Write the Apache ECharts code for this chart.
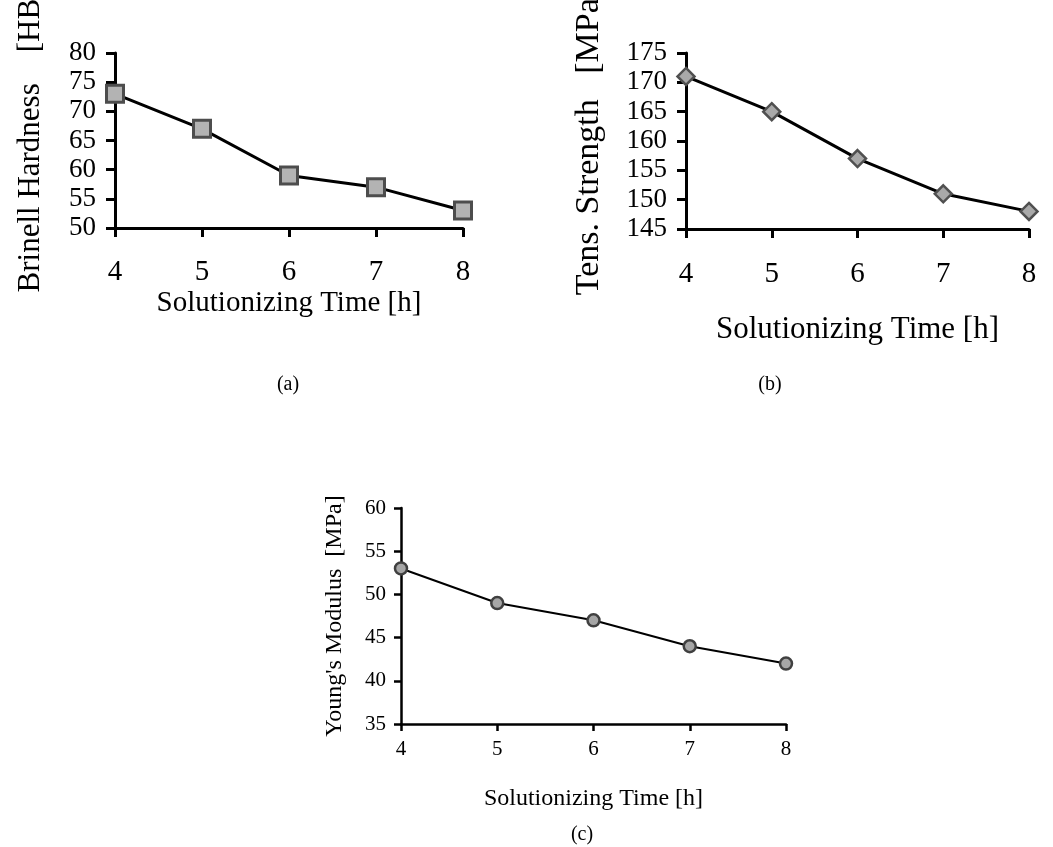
<!DOCTYPE html>
<html>
<head>
<meta charset="utf-8">
<script src="https://cdn.jsdelivr.net/npm/echarts@6/dist/echarts.min.js"></script>
<style>
html,body{margin:0;padding:0;background:#fff;}
#chart{width:1053px;height:847px;}
</style>
</head>
<body>
<div id="chart"></div>
<script>
const times = [4, 5, 6, 7, 8];
const hardness = [73, 67, 59, 57, 53];
const tensile = [171, 165, 157, 151, 148];
const youngs = [53, 49, 47, 44, 42];

const xName = 'Solutionizing Time [h]';
const yNames = ['Brinell Hardness    [HB]', 'Tens. Strength   [MPa]', "Young's Modulus  [MPa]"];
const captions = ['(a)', '(b)', '(c)'];
const yRanges = [[50, 80], [145, 175], [35, 60]];

const FONT = 'Liberation Serif';
const chart = echarts.init(document.getElementById('chart'));

const grids = [
  {left: 115, right: 590, top: 53, bottom: 619, containLabel: false, outerBoundsMode: 'none'},
  {left: 686, right: 24, top: 53, bottom: 618, containLabel: false, outerBoundsMode: 'none'},
  {left: 401, right: 267, top: 508, bottom: 123, containLabel: false, outerBoundsMode: 'none'}
];
const big = [true, true, false];
const xLabelSize = [29, 29, 21];
const yLabelSize = [27, 27, 21];
const xNameSize = [29, 31, 24];
const yNameSize = [31, 34, 24];
const xLabelMargin = [30, 31, 15];
const yLabelMargin = [19, 19, 15];
const xNameGap = [61, 85, 63];
const yNameGap = [69, 80, 54];

const xAxes = grids.map((g, i) => ({
  gridIndex: i, type: 'value', min: 4, max: 8, interval: 1,
  axisLine: {show: true, onZero: false, lineStyle: {color: '#000', width: big[i] ? 3 : 2.5}},
  axisTick: {show: true, inside: false, length: big[i] ? 9 : 7, lineStyle: {color: '#000', width: big[i] ? 3 : 2.5}},
  splitLine: {show: false},
  axisLabel: {fontFamily: FONT, fontSize: xLabelSize[i], color: '#000', margin: xLabelMargin[i],
              showMinLabel: true, showMaxLabel: true, hideOverlap: false},
  name: xName, nameLocation: 'middle', nameGap: xNameGap[i],
  nameTextStyle: {fontFamily: FONT, fontSize: xNameSize[i], color: '#000'}
}));
const yAxes = grids.map((g, i) => ({
  gridIndex: i, type: 'value', min: yRanges[i][0], max: yRanges[i][1], interval: 5,
  axisLine: {show: true, onZero: false, lineStyle: {color: '#000', width: big[i] ? 3 : 2.5}},
  axisTick: {show: true, inside: false, length: big[i] ? 9 : 7, lineStyle: {color: '#000', width: big[i] ? 3 : 2.5}},
  splitLine: {show: false},
  axisLabel: {fontFamily: FONT, fontSize: yLabelSize[i], color: '#000', margin: yLabelMargin[i],
              showMinLabel: true, showMaxLabel: true, hideOverlap: false},
  name: yNames[i], nameLocation: 'middle', nameGap: yNameGap[i],
  nameTextStyle: {fontFamily: FONT, fontSize: yNameSize[i], color: '#000'}
}));

function pairs(vals) { return times.map((t, k) => [t, vals[k]]); }

const series = [
  {type: 'line', xAxisIndex: 0, yAxisIndex: 0, data: pairs(hardness), clip: false,
   symbol: 'rect', symbolSize: 17,
   lineStyle: {color: '#000', width: 3},
   itemStyle: {color: '#b3b3b3', borderColor: '#4d4d4d', borderWidth: 3}},
  {type: 'line', xAxisIndex: 1, yAxisIndex: 1, data: pairs(tensile), clip: false,
   symbol: 'diamond', symbolSize: 17,
   lineStyle: {color: '#000', width: 3},
   itemStyle: {color: '#a9a9a9', borderColor: '#505050', borderWidth: 2.5}},
  {type: 'line', xAxisIndex: 2, yAxisIndex: 2, data: pairs(youngs), clip: false,
   symbol: 'circle', symbolSize: 12,
   lineStyle: {color: '#000', width: 2},
   itemStyle: {color: '#a6a6a6', borderColor: '#404040', borderWidth: 2.5}}
];

const capPos = [[288, 385], [770, 385], [582, 835]];
const graphic = captions.map((c, i) => ({
  type: 'text', x: capPos[i][0], y: capPos[i][1],
  style: {text: c, font: '20px "' + FONT + '"', fill: '#000', align: 'center', verticalAlign: 'middle'}
}));

chart.setOption({
  animation: false,
  backgroundColor: '#fff',
  grid: grids,
  xAxis: xAxes,
  yAxis: yAxes,
  series: series,
  graphic: graphic
});
</script>
</body>
</html>
